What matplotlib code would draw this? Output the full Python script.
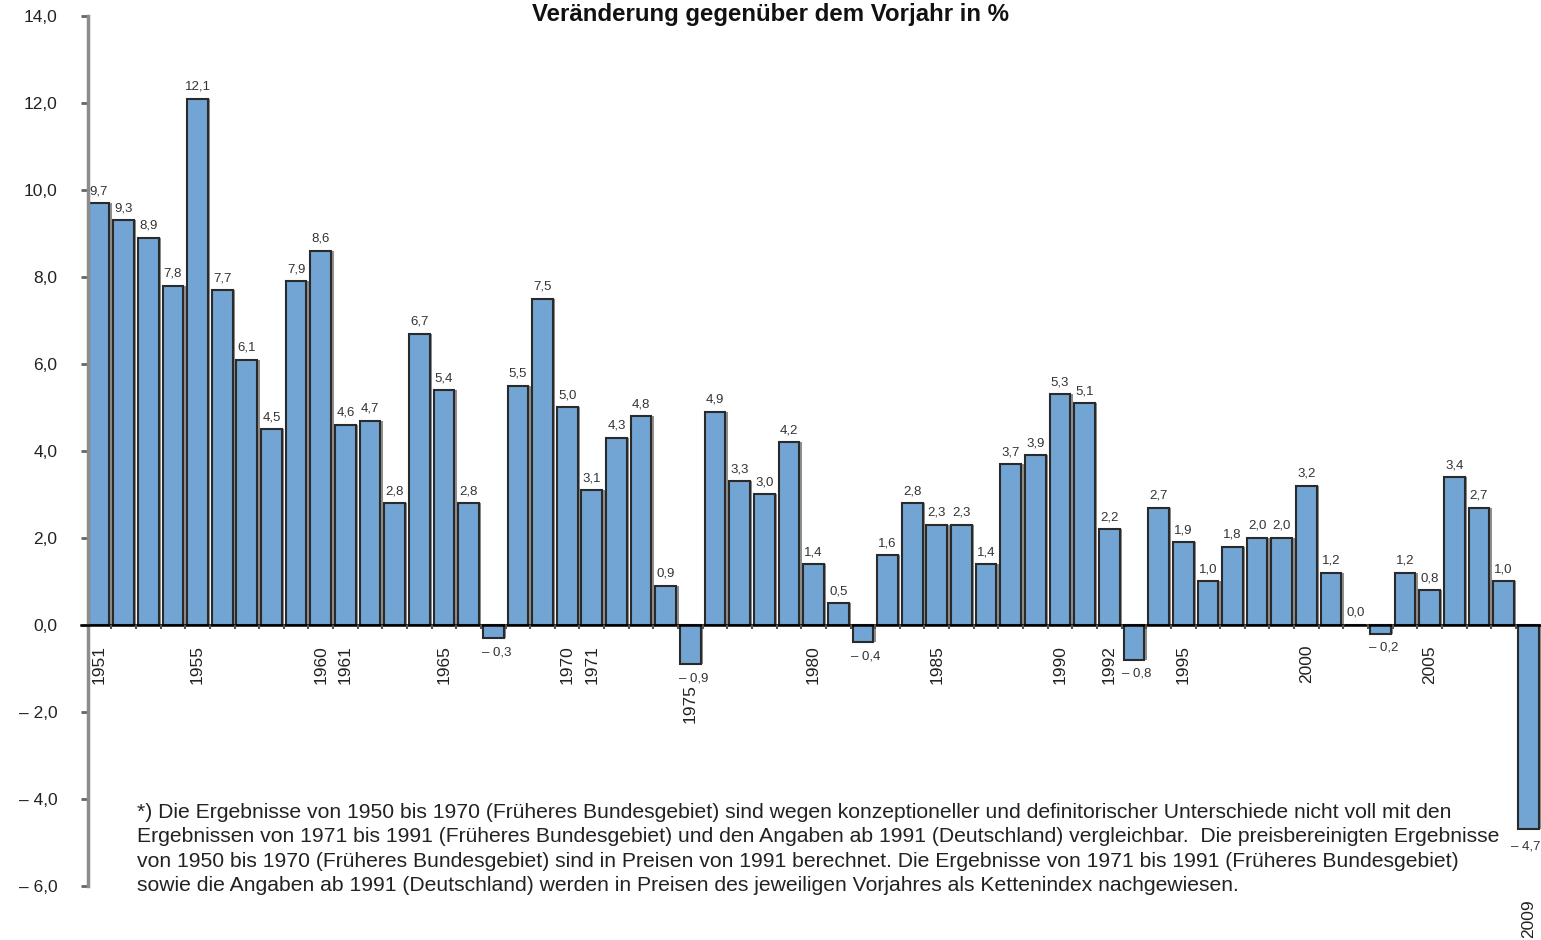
import matplotlib
matplotlib.use("Agg")
import matplotlib.pyplot as plt
from matplotlib.transforms import offset_copy

plt.rcParams['font.family'] = ['Liberation Sans', 'DejaVu Sans']

years = list(range(1951, 2010))
values = [9.7, 9.3, 8.9, 7.8, 12.1, 7.7, 6.1, 4.5, 7.9, 8.6,
          4.6, 4.7, 2.8, 6.7, 5.4, 2.8, -0.3, 5.5, 7.5, 5.0,
          3.1, 4.3, 4.8, 0.9, -0.9, 4.9, 3.3, 3.0, 4.2, 1.4,
          0.5, -0.4, 1.6, 2.8, 2.3, 2.3, 1.4, 3.7, 3.9, 5.3,
          5.1, 2.2, -0.8, 2.7, 1.9, 1.0, 1.8, 2.0, 2.0, 3.2,
          1.2, 0.0, -0.2, 1.2, 0.8, 3.4, 2.7, 1.0, -4.7]
labeled_years = [1951, 1955, 1960, 1961, 1965, 1970, 1971, 1975, 1980,
                 1985, 1990, 1992, 1995, 2000, 2005, 2009]
yticks = [-6, -4, -2, 0, 2, 4, 6, 8, 10, 12, 14]
title = "Veränderung gegenüber dem Vorjahr in %"
footnote = ("*) Die Ergebnisse von 1950 bis 1970 (Früheres Bundesgebiet) sind wegen konzeptioneller und definitorischer Unterschiede nicht voll mit den\n"
            "Ergebnissen von 1971 bis 1991 (Früheres Bundesgebiet) und den Angaben ab 1991 (Deutschland) vergleichbar.  Die preisbereinigten Ergebnisse\n"
            "von 1950 bis 1970 (Früheres Bundesgebiet) sind in Preisen von 1991 berechnet. Die Ergebnisse von 1971 bis 1991 (Früheres Bundesgebiet)\n"
            "sowie die Angaben ab 1991 (Deutschland) werden in Preisen des jeweiligen Vorjahres als Kettenindex nachgewiesen.")


def fmt(v):
    s = f"{abs(v):.1f}".replace('.', ',')
    return ("\u2013 " + s) if v < 0 else s


W, H = 1541, 940
fig = plt.figure(figsize=(W / 100, H / 100), dpi=100)
ax = fig.add_axes([88 / W, 1 - 886 / H, (W - 88) / W, (886 - 16) / H])

x = list(range(len(years)))
# shadow
ax.bar([i + 0.1 for i in x], values, width=0.84, color='#8f8f8f', zorder=1)
ax.bar(x, values, width=0.84, color='#72a5d3', edgecolor='#2a2a2a',
       linewidth=1.5, zorder=2)

ax.set_xlim(-0.446, 58.52)
ax.set_ylim(-6, 14)

# zero line
ax.plot([-0.75, 58.6], [0, 0], color='black', lw=1.8, clip_on=False, zorder=3)
ax.vlines([i + 0.5 for i in x[:-1]], 0, -0.1, color='#555555', lw=1.5, zorder=3)

for sp in ['top', 'right', 'bottom']:
    ax.spines[sp].set_visible(False)
ax.spines['left'].set_color('#8c8c8c')
ax.spines['left'].set_linewidth(2.5)
ax.set_xticks([])
ax.set_yticks(yticks)
ax.set_yticklabels([fmt(t) for t in yticks])
ax.tick_params(axis='y', length=5, width=2, color='#666666', pad=17,
               labelsize=12.5, labelcolor='#222222')

last = len(values) - 1
for i, v in enumerate(values):
    if v >= 0:
        tr = offset_copy(ax.transData, fig=fig, x=0, y=6, units='dots')
        ax.text(i, v, fmt(v), ha='center', va='bottom', fontsize=9.5,
                color='#333333', transform=tr)
    elif i == last:
        tr = offset_copy(ax.transData, fig=fig, x=12, y=-11, units='dots')
        ax.text(i, v, fmt(v), ha='right', va='top', fontsize=9.5,
                color='#333333', transform=tr)
    else:
        tr = offset_copy(ax.transData, fig=fig, x=3, y=-8, units='dots')
        ax.text(i, v, fmt(v), ha='center', va='top', fontsize=9.5,
                color='#333333', transform=tr)

extra_drop = {2009: 50}
for yr in labeled_years:
    i = years.index(yr)
    v = values[i]
    drop = 20 + extra_drop.get(yr, 0)
    tr = offset_copy(ax.transData, fig=fig, x=0, y=-drop, units='dots')
    ax.text(i, min(v, 0), str(yr), rotation=90, ha='center', va='top',
            fontsize=12.5, color='#222222', transform=tr)

fig.text(0.5, 1 - 15 / H, title, ha='center', va='center', fontsize=17.3,
         fontweight='bold', color='#111111')
fig.text(137 / W, 1 - 803 / H, footnote, ha='left', va='top', fontsize=15.2,
         color='#222222', linespacing=1.36)

fig.savefig('out.png', dpi=100)
